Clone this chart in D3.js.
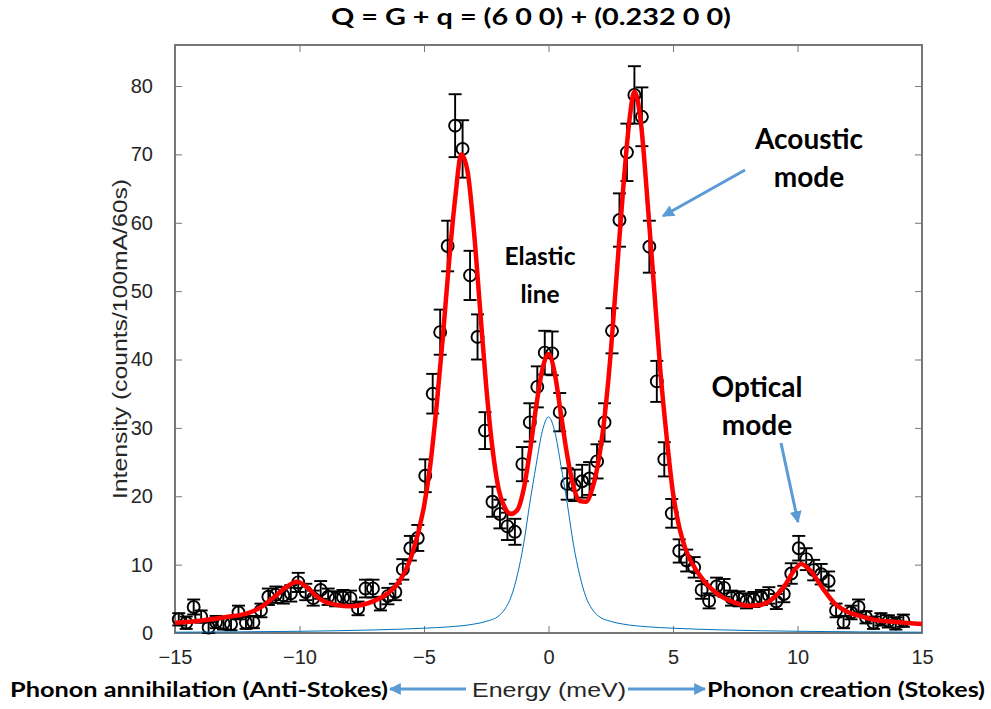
<!DOCTYPE html>
<html>
<head>
<meta charset="utf-8">
<script src="https://cdn.jsdelivr.net/npm/d3@7"></script>
<style>
  body { margin: 0; background: #fff; }
  svg { display: block; }
  .tick-label { font-family: "Liberation Sans", Arial, sans-serif; font-size: 20px; fill: #262626; }
  .bold { font-family: Lato, "Open Sans", sans-serif; font-weight: bold; fill: #000; }
</style>
</head>
<body>
<svg id="chart" width="991" height="709"></svg>
<script>
// measured points (energy in meV, counts per 100mA/60s, error)
const energy = [-14.85, -14.55, -14.25, -13.95, -13.65, -13.35, -13.05, -12.75, -12.45, -12.15,
  -11.85, -11.55, -11.25, -10.95, -10.65, -10.35, -10.05, -9.75, -9.45, -9.15,
  -8.85, -8.55, -8.25, -7.95, -7.65, -7.35, -7.05, -6.75, -6.45, -6.15,
  -5.85, -5.55, -5.25, -4.95, -4.65, -4.35, -4.05, -3.75, -3.45, -3.15,
  -2.85, -2.55, -2.25, -1.95, -1.65, -1.35, -1.05, -0.75, -0.45, -0.15,
  0.15, 0.45, 0.75, 1.05, 1.35, 1.65, 1.95, 2.25, 2.55, 2.85,
  3.15, 3.45, 3.75, 4.05, 4.35, 4.65, 4.95, 5.25, 5.55, 5.85,
  6.15, 6.45, 6.75, 7.05, 7.35, 7.65, 7.95, 8.25, 8.55, 8.85,
  9.15, 9.45, 9.75, 10.05, 10.35, 10.65, 10.95, 11.25, 11.55, 11.85,
  12.15, 12.45, 12.75, 13.05, 13.35, 13.65, 13.95, 14.25];
const counts = [2.0, 1.5, 3.8, 2.4, 0.8, 1.6, 1.4, 1.3, 3.0, 1.5,
  1.6, 3.3, 5.3, 5.6, 5.5, 5.8, 7.4, 6.0, 5.1, 6.3,
  5.3, 5.0, 5.2, 5.1, 3.6, 6.5, 6.5, 4.3, 5.4, 6.0,
  9.3, 12.4, 13.9, 23.0, 35.0, 44.0, 56.6, 74.2, 70.8, 52.3,
  43.3, 29.6, 19.2, 17.4, 15.6, 14.8, 24.7, 30.8, 36.0, 41.0,
  40.9, 32.3, 21.8, 21.6, 22.2, 22.6, 25.1, 30.8, 44.2, 60.4,
  70.3, 78.7, 75.5, 56.5, 36.8, 25.4, 17.5, 12.0, 10.6, 9.6,
  6.3, 4.7, 6.8, 6.6, 5.1, 5.0, 4.7, 4.9, 5.2, 5.5,
  4.6, 5.7, 8.7, 12.4, 10.8, 9.2, 8.6, 7.6, 3.3, 1.6,
  3.0, 3.8, 2.3, 1.5, 2.0, 1.7, 1.4, 1.8];
const errors = [0.9, 0.9, 1.1, 0.9, 0.8, 0.9, 0.9, 0.9, 1.0, 0.9,
  0.9, 1.0, 1.2, 1.2, 1.2, 1.2, 1.4, 1.2, 1.1, 1.3,
  1.2, 1.1, 1.1, 1.1, 1.0, 1.3, 1.3, 1.0, 1.2, 1.2,
  1.5, 1.8, 1.9, 2.4, 2.9, 3.3, 3.7, 4.6, 4.2, 3.6,
  3.3, 2.7, 2.2, 2.1, 2.0, 1.9, 2.5, 2.8, 3.0, 3.2,
  3.2, 2.8, 2.3, 2.3, 2.4, 2.4, 2.5, 2.8, 3.3, 3.9,
  4.2, 4.2, 4.3, 3.8, 3.0, 2.5, 2.1, 1.7, 1.6, 1.5,
  1.3, 1.1, 1.3, 1.3, 1.1, 1.1, 1.1, 1.1, 1.1, 1.2,
  1.1, 1.2, 1.5, 1.8, 1.6, 1.5, 1.5, 1.4, 1.0, 0.9,
  1.0, 1.1, 0.9, 0.9, 0.9, 0.9, 0.9, 0.9];

// total fit (red)
const fitE = [-15, -14, -13, -12, -11.5, -11, -10.5, -10.1, -9.7, -9.3, -9, -8.5, -8, -7.5, -7, -6.5, -6, -5.5,
  -5, -4.75, -4.5, -4.25, -4, -3.75, -3.5, -3.25, -3, -2.75, -2.5, -2.25, -2, -1.75, -1.5, -1.25,
  -1, -0.75, -0.5, -0.25, 0, 0.25, 0.5, 0.75, 1, 1.25, 1.5, 1.75, 2, 2.25, 2.5, 2.75, 3, 3.25,
  3.45, 3.7, 4, 4.25, 4.5, 4.75, 5, 5.25, 5.5, 6, 6.5, 7, 7.5, 8, 8.5, 9, 9.5, 9.8, 10.15, 10.5,
  11, 11.5, 12, 12.5, 13, 14, 15];
const fitI = [1.5, 1.8, 2.3, 3.0, 3.9, 5.3, 6.8, 7.5, 6.7, 5.3, 4.6, 4.1, 3.9, 4.1, 4.7, 5.7, 7.5, 11.3,
  18.5, 24.5, 33, 43, 54, 63.5, 70, 67.5, 59, 47.5, 36, 27, 21, 18.3, 17.4, 18,
  21, 26.5, 33, 38.5, 40.8, 38, 32, 26, 21.5, 19.3, 19.2, 21, 25, 31.5, 41, 53, 65, 75,
  79.2, 75, 62, 50, 38, 28.5, 20.5, 15.5, 12.3, 8.8, 6.6, 5.2, 4.4, 4.0, 4.1, 5.0, 7.0, 8.8, 10.1, 9.2,
  6.6, 4.3, 3.1, 2.5, 2.0, 1.6, 1.3];

// elastic component (blue)
const elasE = [-15, -10, -7, -5, -4, -3, -2.5, -2, -1.75, -1.5, -1.25, -1, -0.75, -0.5, -0.25, 0,
  0.25, 0.5, 0.75, 1, 1.25, 1.5, 1.75, 2, 2.5, 3, 4, 5, 7, 10, 15];
const elasI = [0.12, 0.25, 0.45, 0.7, 0.9, 1.3, 1.7, 2.5, 3.5, 5.3, 8.5, 13, 19, 24.5, 29.5, 31.6,
  29.5, 24.5, 19, 13, 8.5, 5.3, 3.5, 2.5, 1.7, 1.3, 0.9, 0.7, 0.45, 0.25, 0.12];

const xTicks = [-15, -10, -5, 0, 5, 10, 15];
const yTicks = [0, 10, 20, 30, 40, 50, 60, 70, 80];

const svg = d3.select('#chart');
const plotLeft = 175, plotRight = 922, plotTop = 45, plotBottom = 633;

const x = d3.scaleLinear().domain([-15, 15]).range([plotLeft, plotRight]);
const y = d3.scaleLinear().domain([0, 86]).range([plotBottom, plotTop]);

let defs = svg.append('defs');
defs.append('clipPath').attr('id', 'plotclip')
    .append('rect').attr('x', plotLeft).attr('y', plotTop)
    .attr('width', plotRight - plotLeft).attr('height', plotBottom - plotTop);
defs.append('marker')
    .attr('id', 'arrowhead')
    .attr('viewBox', '0 0 10 10')
    .attr('refX', 9).attr('refY', 5)
    .attr('markerWidth', 4).attr('markerHeight', 4)
    .attr('markerUnits', 'strokeWidth')
    .attr('orient', 'auto')
    .append('path').attr('d', 'M0,0 L10,5 L0,10 z').attr('fill', '#5B9BD5');

// axes box with inward ticks on all four sides
const axisColor = '#777';
svg.append('rect')
   .attr('x', plotLeft).attr('y', plotTop)
   .attr('width', plotRight - plotLeft).attr('height', plotBottom - plotTop)
   .attr('fill', 'none').attr('stroke', axisColor).attr('stroke-width', 1.2)
   .attr('shape-rendering', 'crispEdges');

let gx = svg.append('g').attr('transform', `translate(0,${plotBottom})`)
   .call(d3.axisBottom(x).tickValues(xTicks).tickSizeInner(-7).tickSizeOuter(0).tickPadding(17));
let gxTop = svg.append('g').attr('transform', `translate(0,${plotTop})`)
   .call(d3.axisTop(x).tickValues(xTicks).tickSizeInner(-7).tickSizeOuter(0).tickFormat(''));
let gy = svg.append('g').attr('transform', `translate(${plotLeft},0)`)
   .call(d3.axisLeft(y).tickValues(yTicks).tickSizeInner(-7).tickSizeOuter(0).tickPadding(22));
let gyRight = svg.append('g').attr('transform', `translate(${plotRight},0)`)
   .call(d3.axisRight(y).tickValues(yTicks).tickSizeInner(-7).tickSizeOuter(0).tickFormat(''));

[gx, gxTop, gy, gyRight].forEach(g => {
  g.select('.domain').remove();
  g.selectAll('line').attr('stroke', axisColor);
  g.selectAll('text').attr('class', 'tick-label').attr('fill', '#262626');
});

// data with error bars
let plot = svg.append('g');
const pts = energy.map((e, i) => ({e: e, c: counts[i], err: errors[i]}));
const cap = 6.5;

let bars = plot.selectAll('.bar')
   .data(pts)
   .enter()
   .append('g')
   .attr('class', 'bar')
   .attr('stroke', '#000')
   .attr('stroke-width', 1.9)
   .attr('fill', 'none');
bars.append('line')
    .attr('x1', d => x(d.e)).attr('x2', d => x(d.e))
    .attr('y1', d => y(d.c - d.err)).attr('y2', d => y(d.c + d.err));
bars.append('line')
    .attr('x1', d => x(d.e) - cap).attr('x2', d => x(d.e) + cap)
    .attr('y1', d => y(d.c + d.err)).attr('y2', d => y(d.c + d.err));
bars.append('line')
    .attr('x1', d => x(d.e) - cap).attr('x2', d => x(d.e) + cap)
    .attr('y1', d => y(d.c - d.err)).attr('y2', d => y(d.c - d.err));
bars.append('circle')
    .attr('cx', d => x(d.e)).attr('cy', d => y(d.c))
    .attr('r', 6);

// fit curves
let line = d3.line().x(d => x(d[0])).y(d => y(d[1])).curve(d3.curveMonotoneX);

svg.append('path')
   .datum(fitE.map((e, i) => [e, fitI[i]]))
   .attr('d', line)
   .attr('fill', 'none')
   .attr('stroke', '#FF0000')
   .attr('stroke-width', 4.5)
   .attr('stroke-linejoin', 'round')
   .attr('clip-path', 'url(#plotclip)');

svg.append('path')
   .datum(elasE.map((e, i) => [e, elasI[i]]))
   .attr('d', line)
   .attr('fill', 'none')
   .attr('stroke', '#0072BD')
   .attr('stroke-width', 1)
   .attr('clip-path', 'url(#plotclip)');

// titles and labels
svg.append('text')
   .attr('class', 'bold')
   .attr('x', 531).attr('y', 25)
   .attr('text-anchor', 'middle')
   .attr('font-size', 22)
   .attr('textLength', 400).attr('lengthAdjust', 'spacingAndGlyphs')
   .text('Q = G + q = (6 0 0) + (0.232 0 0)');

svg.append('text')
   .attr('class', 'tick-label')
   .attr('transform', 'translate(127,339) rotate(-90)')
   .attr('text-anchor', 'middle')
   .attr('font-size', 21)
   .attr('textLength', 320).attr('lengthAdjust', 'spacingAndGlyphs')
   .text('Intensity (counts/100mA/60s)');

svg.append('text')
   .attr('class', 'tick-label')
   .attr('x', 549).attr('y', 697)
   .attr('text-anchor', 'middle')
   .attr('font-size', 21)
   .attr('textLength', 154).attr('lengthAdjust', 'spacingAndGlyphs')
   .text('Energy (meV)');

svg.append('text')
   .attr('class', 'bold')
   .attr('x', 10).attr('y', 697)
   .attr('font-size', 21)
   .attr('textLength', 378).attr('lengthAdjust', 'spacingAndGlyphs')
   .text('Phonon annihilation (Anti-Stokes)');

svg.append('text')
   .attr('class', 'bold')
   .attr('x', 707).attr('y', 697)
   .attr('font-size', 21)
   .attr('textLength', 278).attr('lengthAdjust', 'spacingAndGlyphs')
   .text('Phonon creation (Stokes)');

const notes = [
  {lines: ['Acoustic', 'mode'], x: 809, y: 149, size: 28},
  {lines: ['Elastic', 'line'], x: 540, y: 265, size: 24.5},
  {lines: ['Optical', 'mode'], x: 757, y: 397, size: 28}
];
notes.forEach(n => {
  n.lines.forEach((t, i) => {
    svg.append('text')
       .attr('class', 'bold')
       .attr('x', n.x).attr('y', n.y + i * 38)
       .attr('text-anchor', 'middle')
       .attr('font-size', n.size)
       .text(t);
  });
});

// blue annotation arrows
const arrows = [
  [[466, 689], [390, 689]],
  [[628, 689], [705, 689]],
  [[745, 170], [663, 216]],
  [[781, 443], [798, 522]]
];
arrows.forEach(a => {
  svg.append('line')
     .attr('x1', a[0][0]).attr('y1', a[0][1])
     .attr('x2', a[1][0]).attr('y2', a[1][1])
     .attr('stroke', '#5B9BD5')
     .attr('stroke-width', 3)
     .attr('marker-end', 'url(#arrowhead)');
});
</script>
</body>
</html>
